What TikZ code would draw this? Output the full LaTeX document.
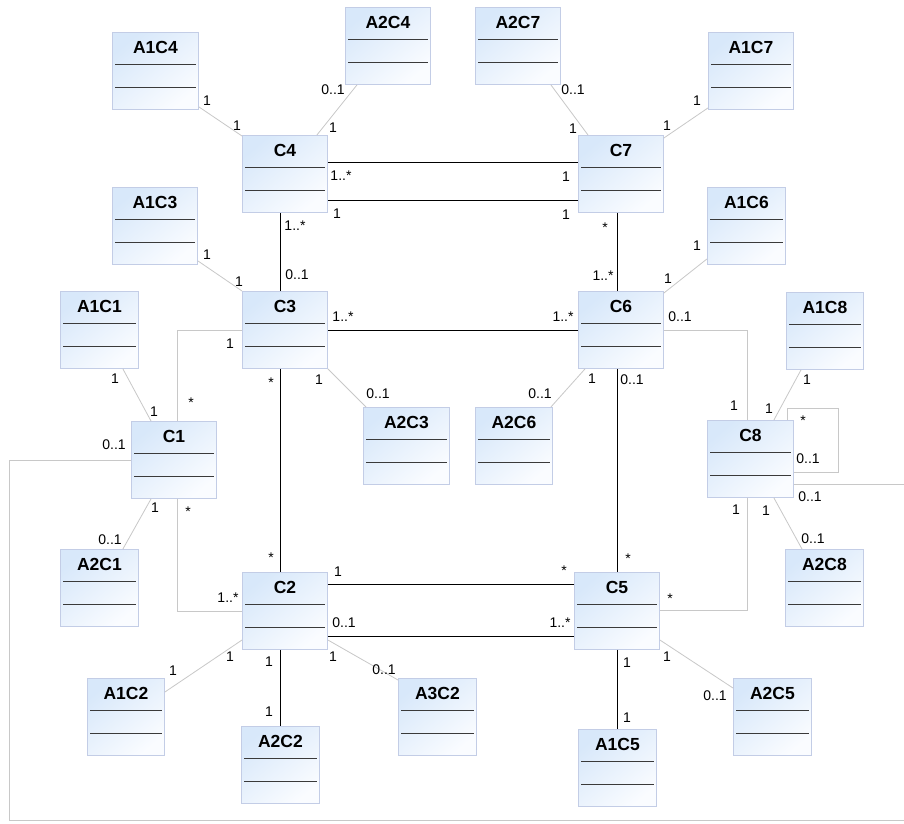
\documentclass[tikz,border=0pt]{standalone}
\usepackage{fontspec}
\setmainfont{Liberation Sans}
\definecolor{bordc}{HTML}{C3CDE6}
\definecolor{topc}{HTML}{D8E8FA}
\definecolor{botc}{HTML}{FAFCFF}
\definecolor{divc}{HTML}{3A3A3A}
\definecolor{lightc}{HTML}{C8C8C8}
\tikzset{
  clsbox/.style={draw=bordc, line width=0.9pt, rectangle, minimum height=77pt, inner sep=0pt,
    top color=topc, bottom color=botc, shading angle=40},
  clstitle/.style={font=\fontsize{17.5}{18}\selectfont\bfseries, inner sep=0pt, text height=0.72em, text depth=0pt},
  divline/.style={draw=divc, line width=0.9pt},
  heavy/.style={draw=black, line width=0.9pt},
  assoc/.style={draw=lightc, line width=0.8pt},
  mult/.style={font=\fontsize{14}{15}\selectfont, inner sep=0pt, text height=0.72em, text depth=0pt}
}
\newcounter{mlc}
\newcommand{\ml}[3]{\stepcounter{mlc}\node[mult] (m\arabic{mlc}) at (#1pt,-#2pt) {#3};}
\newcommand{\cls}[5]{%
  \node[clsbox, minimum width=#4pt, anchor=north west] (#1) at (#2pt,-#3pt) {};
  \node[clstitle] (#1t) at ([yshift=-18pt]#1.north) {#5};
  \draw[divline] ([xshift=3pt,yshift=-32.5pt]#1.north west) -- ([xshift=-3pt,yshift=-32.5pt]#1.north east);
  \draw[divline] ([xshift=3pt,yshift=-55.5pt]#1.north west) -- ([xshift=-3pt,yshift=-55.5pt]#1.north east);
}
\begin{document}
\begin{tikzpicture}
\useasboundingbox[fill=white] (0,0) rectangle (904pt,-823pt);
% classes
\cls{A1C4}{112}{32}{86}{A1C4}
\cls{A2C4}{345}{7}{85}{A2C4}
\cls{A2C7}{475}{7}{85}{A2C7}
\cls{A1C7}{708}{32}{85}{A1C7}
\cls{C4}{242}{135}{85}{C4}
\cls{C7}{578}{135}{85}{C7}
\cls{A1C3}{112}{187}{85}{A1C3}
\cls{A1C6}{707}{187}{78}{A1C6}
\cls{C3}{242}{291}{85}{C3}
\cls{C6}{578}{291}{85}{C6}
\cls{A1C1}{60}{291}{78}{A1C1}
\cls{A1C8}{786}{292}{77}{A1C8}
\cls{C1}{131}{421}{85}{C1}
\cls{C8}{707}{420}{86}{C8}
\cls{A2C3}{363}{407}{86}{A2C3}
\cls{A2C6}{475}{407}{77}{A2C6}
\cls{A2C1}{60}{549}{78}{A2C1}
\cls{A2C8}{785}{549}{78}{A2C8}
\cls{C2}{242}{572}{85}{C2}
\cls{C5}{574}{572}{85}{C5}
\cls{A1C2}{87}{678}{77}{A1C2}
\cls{A2C2}{241}{726}{78}{A2C2}
\cls{A3C2}{398}{678}{78}{A3C2}
\cls{A1C5}{578}{729}{78}{A1C5}
\cls{A2C5}{733}{678}{78}{A2C5}
% helper coordinates
\coordinate (colA) at (280pt,0);
\coordinate (colB) at (617pt,0);
\coordinate (wrapR) at (906pt,-820pt);
\coordinate (wrapL) at (9.5pt,-820pt);
% heavy connectors
\draw[heavy] ([yshift=-27pt]C4.north east) -- ([yshift=-27pt]C7.north west);
\draw[heavy] ([yshift=-65pt]C4.north east) -- ([yshift=-65pt]C7.north west);
\draw[heavy] (C4.south -| colA) -- (C3.north -| colA);
\draw[heavy] (C7.south -| colB) -- (C6.north -| colB);
\draw[heavy] (C3.east) -- (C6.west);
\draw[heavy] (C3.south -| colA) -- (C2.north -| colA);
\draw[heavy] (C6.south -| colB) -- (C5.north -| colB);
\draw[heavy] ([yshift=-12pt]C2.north east) -- ([yshift=-12pt]C5.north west);
\draw[heavy] ([yshift=-64pt]C2.north east) -- ([yshift=-64pt]C5.north west);
\draw[heavy] (C2.south -| colA) -- (A2C2.north -| colA);
\draw[heavy] (C5.south -| colB) -- (A1C5.north -| colB);
% light connectors
\draw[assoc] ([yshift=3pt]A1C4.south east) -- ([yshift=-1pt]C4.north west);
\draw[assoc] ([xshift=12pt]A2C4.south west) -- ([xshift=-11pt]C4.north east);
\draw[assoc] ([xshift=-10pt]A2C7.south east) -- ([xshift=10pt]C7.north west);
\draw[assoc] ([yshift=2pt]A1C7.south west) -- ([yshift=-3pt]C7.north east);
\draw[assoc] ([yshift=4pt]A1C3.south east) -- (C3.north west);
\draw[assoc] ([yshift=6pt]A1C6.south west) -- ([yshift=-2pt]C6.north east);
\draw[assoc] ([xshift=-16pt]A1C1.south east) -- ([xshift=20pt]C1.north west);
\draw[assoc] ([xshift=20pt]C1.south west) -- ([xshift=-16pt]A2C1.north east);
\draw[assoc] (C3.west) -| ([xshift=3.5pt]C1.north);
\draw[assoc] ([xshift=3.5pt]C1.south) |- ([yshift=-39pt]C2.north west);
\draw[assoc] (C6.east) -| ([xshift=-3.5pt]C8.north);
\draw[assoc] ([xshift=-3.5pt]C8.south) |- ([yshift=-38pt]C5.north east);
\draw[assoc] ([xshift=15pt]A1C8.south west) -- ([xshift=-20pt]C8.north east);
\draw[assoc] ([xshift=-20pt]C8.south east) -- ([xshift=17pt]A2C8.north west);
\draw[assoc] ([xshift=-7pt]C8.north east) -- ++(0,12pt) -| ([xshift=44pt,yshift=-52pt]C8.north east) -- ([yshift=-52pt]C8.north east);
\draw[assoc] ([yshift=-64pt]C8.north east) -| (wrapR) -- (wrapL) |- (C1.west);
\draw[assoc] ([yshift=-68pt]C2.north west) -- ([yshift=-14pt]A1C2.north east);
\draw[assoc] ([yshift=-68pt]C2.north east) -- ([yshift=-2pt]A3C2.north west);
\draw[assoc] ([yshift=-68pt]C5.north east) -- ([yshift=-10pt]A2C5.north west);
\draw[assoc] (C3.south east) -- ([xshift=3pt]A2C3.north west);
\draw[assoc] ([xshift=7pt]C6.south west) -- ([xshift=-2pt]A2C6.north east);
% multiplicities
\ml{341}{177}{1..*} \ml{566}{178}{1}
\ml{337}{215}{1} \ml{566}{216}{1}
\ml{295}{227}{1..*} \ml{297}{276}{0..1}
\ml{605}{229}{*} \ml{603}{277}{1..*}
\ml{343}{318}{1..*} \ml{563}{318}{1..*}
\ml{271}{384}{*} \ml{271}{559}{*}
\ml{632}{381}{0..1} \ml{628}{560}{*}
\ml{338}{573}{1} \ml{564}{572}{*}
\ml{344}{624}{0..1} \ml{560}{624}{1..*}
\ml{269}{663}{1} \ml{269}{713}{1}
\ml{627}{664}{1} \ml{627}{719}{1}
\ml{207}{102}{1} \ml{237}{127}{1}
\ml{333}{91}{0..1} \ml{333}{129}{1}
\ml{573}{91}{0..1} \ml{573}{130}{1}
\ml{697}{102}{1} \ml{667}{127}{1}
\ml{207}{256}{1} \ml{239}{283}{1}
\ml{697}{247}{1} \ml{668}{280}{1}
\ml{115}{380}{1} \ml{154}{413}{1}
\ml{155}{509}{1} \ml{110}{541}{0..1}
\ml{230}{345}{1} \ml{191}{404}{*}
\ml{188}{513}{*} \ml{228}{599}{1..*}
\ml{680}{318}{0..1} \ml{734}{407}{1}
\ml{736}{511}{1} \ml{670}{600}{*}
\ml{807}{381}{1} \ml{769}{410}{1}
\ml{766}{512}{1} \ml{813}{540}{0..1}
\ml{803}{422}{*} \ml{808}{460}{0..1}
\ml{114}{446}{0..1} \ml{810}{498}{0..1}
\ml{230}{658}{1} \ml{173}{672}{1}
\ml{333}{658}{1} \ml{384}{671}{0..1}
\ml{667}{658}{1} \ml{715}{697}{0..1}
\ml{319}{381}{1} \ml{378}{395}{0..1}
\ml{592}{380}{1} \ml{540}{395}{0..1}
\end{tikzpicture}
\end{document}
